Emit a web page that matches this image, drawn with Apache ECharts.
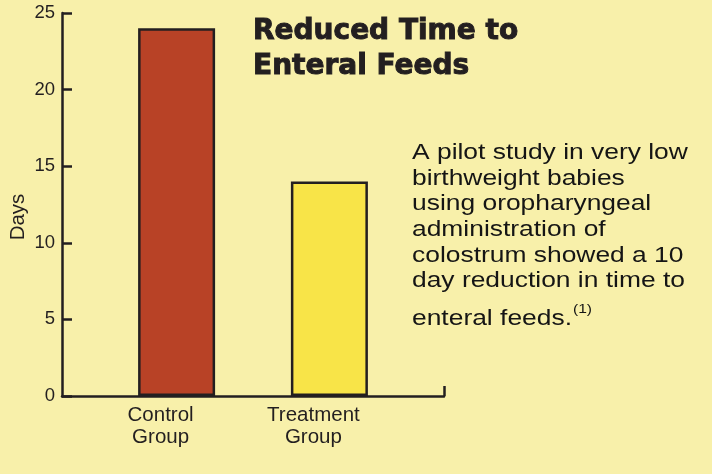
<!DOCTYPE html>
<html>
<head>
<meta charset="utf-8">
<script src="https://cdn.jsdelivr.net/npm/echarts@6/dist/echarts.min.js"></script>
<style>
  html, body { margin: 0; padding: 0; background: #f8f0aa; }
  #chart { width: 712px; height: 474px; }
</style>
</head>
<body>
<div id="chart"></div>
<script>
// bar chart data
var categories = ['Control\nGroup', 'Treatment\nGroup'];
var days = [24, 14];
var barColors = ['#b84226', '#f8e448'];
var yTicks = [0, 5, 10, 15, 20, 25];

// bars sit at these spots of a 0..10 x scale
var slots = [3, 7];

var titleText = 'Reduced Time to\nEnteral Feeds';
var noteLines = [
    'A pilot study in very low',
    'birthweight babies',
    'using oropharyngeal',
    'administration of',
    'colostrum showed a 10',
    'day reduction in time to'
];
var noteLast = 'enteral feeds.';
var noteRef = '(1)';

var ink = '#231f20';

var myChart = echarts.init(document.getElementById('chart'));

var barData = [];
for (var i = 0; i < days.length; i++) {
    barData.push({
        value: [slots[i], days[i]],
        itemStyle: { color: barColors[i] }
    });
}

var option = {
    backgroundColor: '#f8f0aa',
    animation: false,
    title: {
        text: titleText,
        left: 253,
        top: 14,
        padding: 0,
        textStyle: {
            fontFamily: 'DejaVu Sans',
            fontWeight: 'bold',
            fontSize: 28,
            lineHeight: 35,
            color: ink,
            textBorderColor: ink,
            textBorderWidth: 1
        }
    },
    grid: {
        left: 62,
        right: 268,
        top: 13,
        bottom: 78,
        outerBoundsMode: 'none'
    },
    xAxis: {
        type: 'value',
        min: 0,
        max: 10,
        splitLine: { show: false },
        axisLine: { lineStyle: { color: ink, width: 2.5 } },
        axisTick: {
            customValues: [10],
            inside: true,
            length: 10,
            lineStyle: { color: ink, width: 2.5 }
        },
        axisLabel: {
            customValues: slots,
            margin: 9,
            color: ink,
            fontFamily: 'Liberation Sans',
            fontSize: 20.5,
            lineHeight: 21.5,
            padding: [0, 32, 0, 0],
            formatter: function (v) {
                return categories[slots.indexOf(v)];
            }
        }
    },
    yAxis: {
        type: 'value',
        min: 0,
        max: 25,
        interval: 5,
        name: 'Days',
        nameLocation: 'middle',
        nameRotate: 90,
        nameGap: 33,
        nameMoveOverlap: false,
        nameTextStyle: {
            color: ink,
            fontFamily: 'Liberation Sans',
            fontSize: 20.5,
            padding: [0, 25, 0, 0]
        },
        splitLine: { show: false },
        axisLine: { show: true, lineStyle: { color: ink, width: 2.5 } },
        axisTick: {
            inside: true,
            length: 10,
            lineStyle: { color: ink, width: 2.5 }
        },
        axisLabel: {
            margin: 7,
            color: ink,
            fontFamily: 'Liberation Sans',
            fontSize: 18.5,
            formatter: function (v) {
                return yTicks.indexOf(v) >= 0 ? String(v) : '';
            }
        }
    },
    graphic: [
        {
            type: 'text',
            x: 412,
            y: 140,
            scaleX: 1.2,
            style: {
                text: noteLines.join('\n'),
                font: '22px "Liberation Sans"',
                fill: '#151515',
                lineHeight: 25.7,
                verticalAlign: 'top'
            }
        },
        {
            type: 'text',
            x: 412,
            y: 306,
            scaleX: 1.2,
            style: {
                text: noteLast,
                font: '22px "Liberation Sans"',
                fill: '#151515',
                lineHeight: 25.7,
                verticalAlign: 'top'
            }
        },
        {
            type: 'text',
            x: 573,
            y: 303,
            scaleX: 1.2,
            style: {
                text: noteRef,
                font: '13px "Liberation Sans"',
                fill: '#151515',
                verticalAlign: 'top'
            }
        }
    ],
    series: [
        {
            type: 'bar',
            barWidth: 77,
            data: barData,
            itemStyle: {
                borderColor: ink,
                borderWidth: 2.5
            }
        }
    ]
};

myChart.setOption(option);
</script>
</body>
</html>
